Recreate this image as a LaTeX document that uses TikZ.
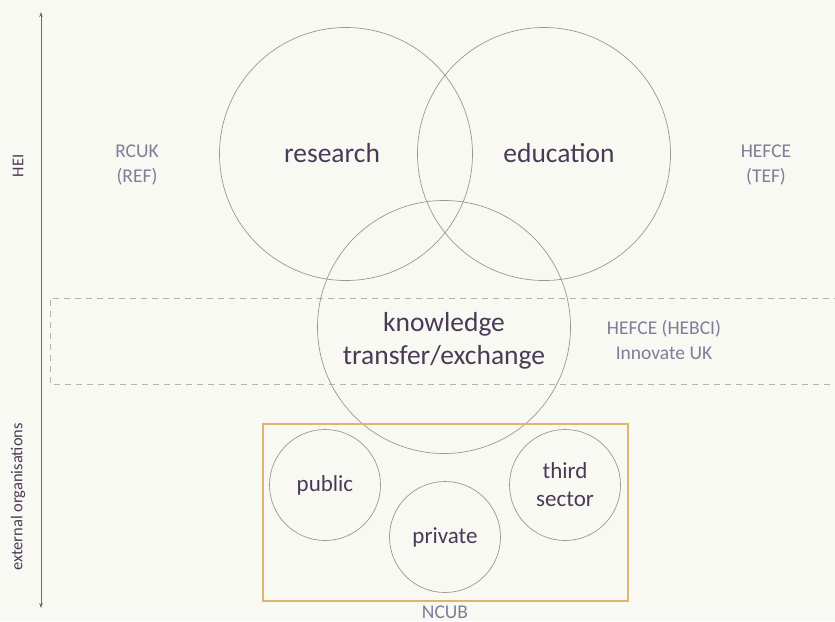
\documentclass[tikz,border=0pt]{standalone}
\usepackage{fontspec}
\setmainfont{Carlito}
\usetikzlibrary{arrows.meta}
\definecolor{bg}{HTML}{F9F9F4}
\definecolor{main}{HTML}{4B3A57}
\definecolor{sub}{HTML}{827C99}
\definecolor{ring}{HTML}{9A9790}
\definecolor{gold}{HTML}{DDB56E}
\definecolor{dashgrey}{HTML}{B5B3AB}
\definecolor{axis}{HTML}{6E6C62}
\tikzset{
  big/.style={circle, draw=ring, line width=0.7pt, minimum size=253pt, inner sep=0pt},
  small/.style={circle, draw=ring, line width=0.7pt, minimum size=111pt, inner sep=0pt},
  maintxt/.style={text=main, font=\fontsize{27.5}{33}\selectfont, align=center},
  smalltxt/.style={text=main, font=\fontsize{23}{28}\selectfont, align=center},
  subtxt/.style={text=sub, font=\fontsize{19.5}{25}\selectfont, align=center},
  sidetxt/.style={text=main, font=\fontsize{16.5}{18}\selectfont, rotate=90}
}
\begin{document}
\begin{tikzpicture}[x=1pt,y=-1pt]
\useasboundingbox[fill=bg] (0,0) rectangle (835,621);
% dashed band
\draw[dashgrey, line width=0.9pt, dash pattern=on 6pt off 5pt] (840,298) -- (50,298) -- (50,384) -- (840,384);
% circles
\node[big] (research) at (346,154) {};
\node[big] (education) at (544,154) {};
\node[big] (kte) at (444,327) {};
\node[maintxt] (tres) at (332,153) {research};
\node[maintxt] (tedu) at (559,153) {education};
\node[maintxt] (tkte) at (444,341) {knowledge\\transfer/exchange};
% NCUB box
\node[draw=gold, line width=1.6pt, minimum width=365pt, minimum height=177pt, inner sep=0pt] (ncub) at (445.5,512.5) {};
\node[small] (public) at (325,485) {};
\node[small] (private) at (445,537) {};
\node[small] (third) at (565,485) {};
\node[smalltxt] at (public) {public};
\node[smalltxt] at (private) {private};
\node[smalltxt] at (third) {third\\sector};
\node[subtxt] (ncubl) at (445,612) {NCUB};
% labels
\node[subtxt] (rcuk) at (137,165) {RCUK\\(REF)};
\node[subtxt] (hefce) at (766,165) {HEFCE\\(TEF)};
\node[subtxt] (hebci) at (664,340) {HEFCE (HEBCI)\\Innovate UK};
% axis
\coordinate (top) at (41,12);
\coordinate (bot) at (41,608);
\draw[axis, line width=0.9pt, {Stealth[length=5pt,width=3.5pt]}-{Stealth[length=5pt,width=3.5pt]}] (top) -- (bot);
\node[sidetxt] (hei) at (18,166) {HEI};
\node[sidetxt] (ext) at (18,497) {external organisations};
\end{tikzpicture}
\end{document}
